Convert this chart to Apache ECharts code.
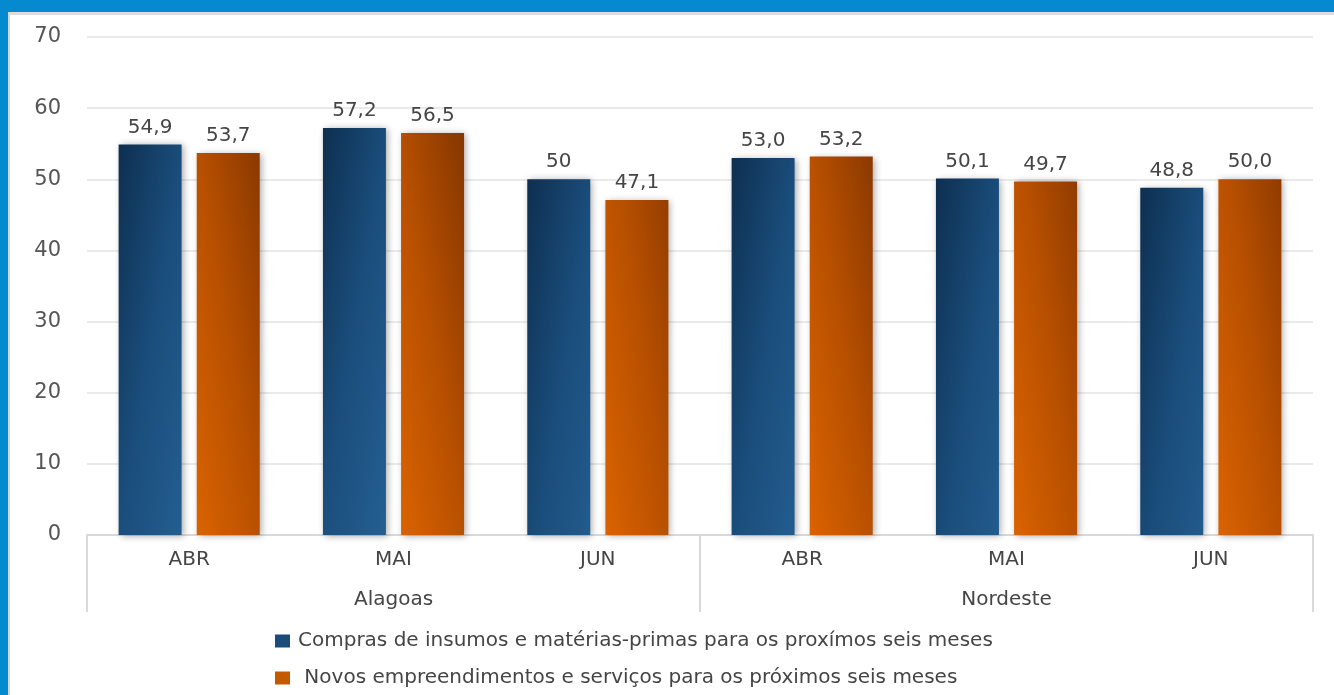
<!DOCTYPE html>
<html>
<head>
<meta charset="utf-8">
<script src="https://cdn.jsdelivr.net/npm/echarts@6/dist/echarts.min.js"></script>
<style>
  html, body { margin: 0; padding: 0; background: #ffffff; }
  #chart { position: absolute; left: 0; top: 0; width: 1334px; height: 695px; }
  .frame-top { position: absolute; left: 0; top: 0; width: 1334px; height: 12px; background: #0589cf; }
  .frame-top-edge { position: absolute; left: 9px; top: 12px; width: 1325px; height: 3px; background: #dcdcdc; }
  .frame-left { position: absolute; left: 0; top: 0; width: 8px; height: 695px; background: #0589cf; }
  .frame-left-edge { position: absolute; left: 8px; top: 12px; width: 2px; height: 683px; background: #d6d6d6; }
</style>
</head>
<body>
<div id="chart"></div>
<div class="frame-top"></div>
<div class="frame-top-edge"></div>
<div class="frame-left"></div>
<div class="frame-left-edge"></div>
<script>
// Months within each region and the region groups below them
const months = ['ABR', 'MAI', 'JUN', 'ABR', 'MAI', 'JUN'];
const regions = ['Alagoas', 'Nordeste'];

// Index values (first three: Alagoas, last three: Nordeste)
const comprasValues = [54.9, 57.2, 50, 53.0, 50.1, 48.8];
const comprasLabels = ['54,9', '57,2', '50', '53,0', '50,1', '48,8'];
const novosValues = [53.7, 56.5, 47.1, 53.2, 49.7, 50.0];
const novosLabels = ['53,7', '56,5', '47,1', '53,2', '49,7', '50,0'];

const seriesNames = [
  'Compras de insumos e matérias-primas para os proxímos seis meses',
  ' Novos empreendimentos e serviços para os próximos seis meses'
];

const yTicks = { min: 0, max: 70, interval: 10 };

const FONT = 'DejaVu Sans';
const TEXT = '#454545';

// Shading runs mostly across each bar, with a lighter lower part
const blueFill = new echarts.graphic.LinearGradient(0, 0, 2, 0.055, [
  { offset: 0, color: '#0e2f50' },
  { offset: 0.5, color: '#1a4d7b' },
  { offset: 1, color: '#235e91' }
]);
const orangeFill = new echarts.graphic.LinearGradient(0, 1, 2, 0.945, [
  { offset: 0, color: '#da6300' },
  { offset: 0.5, color: '#b85000' },
  { offset: 1, color: '#883800' }
]);

const chart = echarts.init(document.getElementById('chart'), null, { renderer: 'canvas' });

function barSeries(name, values, labels, fill) {
  return {
    name: name,
    type: 'bar',
    xAxisIndex: 0,
    barWidth: 63,
    barGap: '24%',
    data: values.map((v, i) => ({ value: v, label: { formatter: labels[i] } })),
    itemStyle: {
      color: fill,
      shadowColor: 'rgba(0,0,0,0.35)',
      shadowBlur: 7,
      shadowOffsetX: 2,
      shadowOffsetY: 1
    },
    label: {
      show: true,
      position: 'top',
      distance: 7,
      fontFamily: FONT,
      fontSize: 20,
      color: TEXT
    },
    emphasis: { disabled: true }
  };
}

chart.setOption({
  animation: false,
  backgroundColor: 'transparent',
  grid: { left: 87, right: 21, top: 37, bottom: 160, containLabel: false },
  legend: {
    orient: 'vertical',
    left: 270,
    top: 626,
    itemWidth: 15,
    itemHeight: 13,
    itemGap: 17,
    icon: 'rect',
    textStyle: { fontFamily: FONT, fontSize: 20, color: TEXT, padding: [0, 0, 0, 3] },
    data: [
      { name: seriesNames[0], itemStyle: { color: '#1b4b78' } },
      { name: seriesNames[1], itemStyle: { color: '#c45a00' } }
    ]
  },
  xAxis: [
    {
      type: 'category',
      data: months,
      position: 'bottom',
      axisLine: { show: true, lineStyle: { color: '#d9d9d9', width: 2 } },
      axisTick: { show: false },
      axisLabel: { fontFamily: FONT, fontSize: 20, color: TEXT, margin: 15 }
    },
    {
      type: 'category',
      data: regions,
      position: 'bottom',
      gridIndex: 0,
      axisLine: { show: false },
      axisTick: { show: true, length: 77, lineStyle: { color: '#d9d9d9', width: 2 } },
      axisLabel: { fontFamily: FONT, fontSize: 20, color: TEXT, margin: 55 }
    }
  ],
  yAxis: {
    type: 'value',
    min: yTicks.min,
    max: yTicks.max,
    interval: yTicks.interval,
    axisLine: { show: false },
    axisTick: { show: false },
    splitLine: { lineStyle: { color: '#e3e3e3', width: 1.5 } },
    axisLabel: { fontFamily: FONT, fontSize: 21, color: '#555555', margin: 26 }
  },
  series: [
    barSeries(seriesNames[0], comprasValues, comprasLabels, blueFill),
    barSeries(seriesNames[1], novosValues, novosLabels, orangeFill)
  ]
});
</script>
</body>
</html>
